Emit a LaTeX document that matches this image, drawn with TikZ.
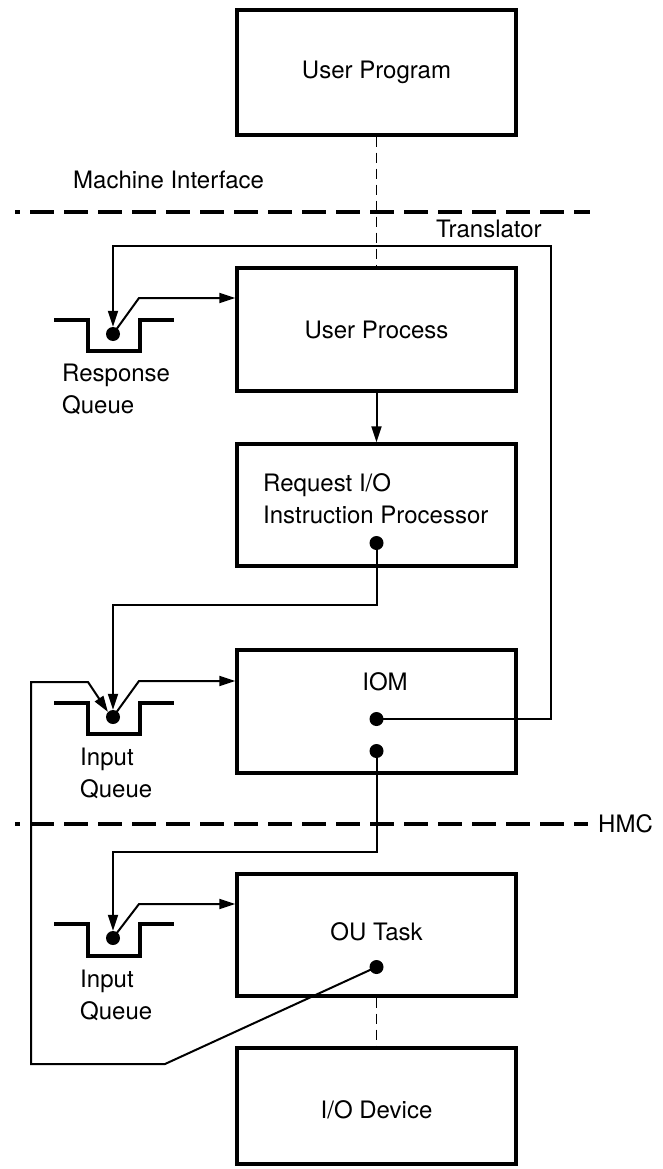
\documentclass[tikz,border=0pt]{standalone}
\usepackage{fontspec}
\setmainfont{TeX Gyre Heros}
\usetikzlibrary{arrows.meta}
\begin{document}
\begin{tikzpicture}[x=1pt,y=-1pt,
  txt/.style={font=\fontsize{24}{32}\selectfont, inner sep=0pt},
  box/.style={draw, line width=3.4pt, minimum width=279pt, inner sep=0pt,
              font=\fontsize{24}{32}\selectfont},
  link/.style={line width=2pt},
  tip/.style={-{Triangle[length=16pt,width=10pt]}},
  dot/.style={circle, fill, inner sep=0pt, minimum size=14pt},
  queue/.style={line width=3.4pt},
  boundary/.style={line width=3.6pt, dash pattern=on 24pt off 10pt},
  cdash/.style={line width=1.8pt, dash pattern=on 10pt off 6pt}]
\useasboundingbox (0,0) rectangle (662,1169);

% process boxes
\node[box, minimum height=125pt] (up) at (376.5,72.5) {User Program};
\node[box, minimum height=123pt] (proc) at (376.5,329.5) {User Process};
\node[box, minimum height=122pt] (req) at (376.5,505) {};
\node[txt, anchor=west, align=left] (reqtxt) at (263,499) {Request I/O\\Instruction Processor};
\node[box, minimum height=123pt] (iom) at (376.5,711.5) {};
\node[txt] (iomtxt) at (385,682) {IOM};
\node[box, minimum height=122pt] (ou) at (376.5,935) {};
\node[txt] (outxt) at (376.5,932) {OU Task};
\node[box, minimum height=116pt] (iodev) at (376.5,1106) {};
\node[txt] (iodevtxt) at (376.5,1110) {I/O Device};

% interface boundaries
\draw[line width=3.6pt] (15,212) -- (20,212);
\draw[boundary] (30,212) -- (590,212);
\draw[line width=3.6pt] (15,824) -- (20,824);
\draw[boundary] (30,824) -- (588,824);
\node[txt, anchor=west] (mi) at (73,180) {Machine Interface};
\node[txt, anchor=west] (tr) at (436,229) {Translator};
\node[txt, anchor=west] (hmc) at (598,824) {HMC};

% queues
\draw[queue] (54,320) -- (88,320) -- (88,351) -- (140,351) -- (140,320) -- (174,320);
\draw[queue] (54,703) -- (88,703) -- (88,734) -- (140,734) -- (140,703) -- (174,703);
\draw[queue] (54,924) -- (88,924) -- (88,956) -- (140,956) -- (140,924) -- (174,924);
\node[txt, anchor=west, align=left] (rqlab) at (62,389) {Response\\Queue};
\node[txt, anchor=west, align=left] (iq1lab) at (80,773) {Input\\Queue};
\node[txt, anchor=west, align=left] (iq2lab) at (80,995) {Input\\Queue};

% connection points
\node[dot] (rd) at (113,334) {};
\node[dot] (q2d) at (113,717) {};
\node[dot] (q3d) at (113,938) {};
\node[dot] (rqd) at (376.5,543) {};
\node[dot] (iomA) at (376.5,719) {};
\node[dot] (iomB) at (376.5,751) {};
\node[dot] (oud) at (376.5,967) {};

% connectors
\draw[cdash] (up.south) -- (proc.north);
\draw[cdash] (ou.south) -- (iodev.north);
\draw[link, tip] (proc.south) -- (req.north);
\draw[link, tip] (iomA.center) -- (551,719) -- (551,246) -- (113,246) -- (rd.north);
\draw[link, tip] (rd.center) -- (139,298) -- ([yshift=31.5pt]proc.west);
\draw[link, tip] (rqd.center) -- (376.5,605) -- (113,605) -- (q2d.north);
\draw[link, tip] (q2d.center) -- (139,681) -- ([yshift=30.5pt]iom.west);
\draw[link, tip] (oud.center) -- (165,1064) -- (31,1064) -- (31,682) -- (88,682) -- (q2d.north west);
\draw[link, tip] (iomB.center) -- (376.5,852) -- (113,852) -- (q3d.north);
\draw[link, tip] (q3d.center) -- (139,904) -- ([yshift=31pt]ou.west);
\end{tikzpicture}
\end{document}
